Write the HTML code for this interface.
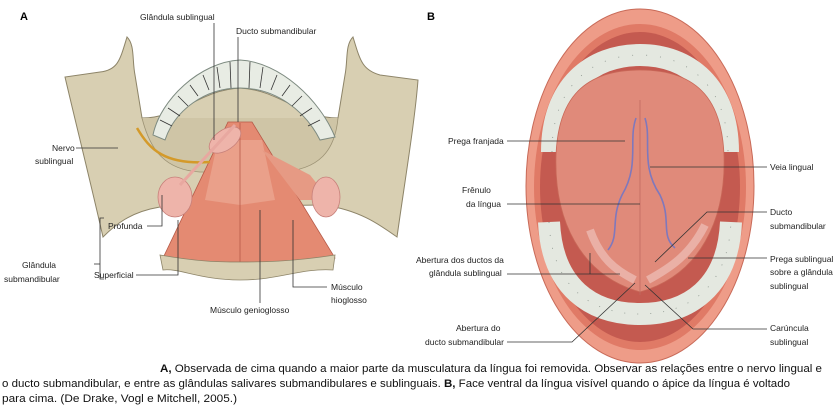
<!DOCTYPE html>
<html><head><meta charset="utf-8"><style>
body{margin:0;background:#fff;}
svg{display:block;font-family:"Liberation Sans",sans-serif;}
.l{font-size:8.5px;fill:#222;}
.c{font-size:11px;fill:#111;}
line,polyline{stroke:#333;stroke-width:0.8;fill:none;}
</style></head><body>
<svg width="840" height="415" viewBox="0 0 840 415">
<!-- Panel A -->
<text x="20" y="20" font-size="11" font-weight="bold">A</text>
<path d="M127,37 C135,45 132,60 135,75 L142,118 C180,118 200,90 240,88 C280,90 300,118 338,118 L345,75 C348,60 345,45 353,37 C360,60 362,70 380,75 L418,80 C415,120 405,180 397,237 C380,225 360,210 323,205 L160,207 C130,212 115,225 103,237 C90,180 75,120 65,77 L100,72 C118,70 120,60 127,37 Z" fill="#d8cfb2" stroke="#8d8468" stroke-width="1"/>
<path d="M142,118 C150,150 165,170 200,172 L280,172 C320,170 335,150 338,118" fill="#cfc5a6" stroke="#9c9274" stroke-width="0.8"/>
<path d="M153,135 C160,100 200,62 240,60 C280,62 320,100 335,137 L320,140 C305,110 275,88 240,88 C205,88 175,110 165,140 Z" fill="#e8ece4" stroke="#7d8a80" stroke-width="1"/>
<g stroke="#9aa69c" stroke-width="0.7">
<line x1="160" y1="120" x2="172" y2="126"/><line x1="168" y1="108" x2="180" y2="116"/><line x1="178" y1="96" x2="188" y2="106"/><line x1="190" y1="85" x2="198" y2="96"/><line x1="203" y1="75" x2="209" y2="90"/><line x1="217" y1="67" x2="220" y2="88"/><line x1="230" y1="62" x2="231" y2="88"/><line x1="250" y1="62" x2="249" y2="88"/><line x1="263" y1="67" x2="260" y2="88"/><line x1="277" y1="75" x2="271" y2="90"/><line x1="290" y1="85" x2="282" y2="96"/><line x1="302" y1="96" x2="292" y2="106"/><line x1="312" y1="108" x2="300" y2="116"/><line x1="320" y1="120" x2="308" y2="126"/>
</g>
<path d="M228,122 L252,122 L335,258 C300,262 280,262 240,262 C200,262 180,262 163,258 Z" fill="#e48a72" stroke="#b65a48" stroke-width="0.8"/>
<path d="M218,140 L262,140 L275,200 L240,205 L205,200 Z" fill="#eaa08a"/>
<path d="M240,123 L240,262" stroke="#b65a48" stroke-width="0.8"/>
<path d="M262,150 L310,175 L330,200 L300,200 Z" fill="#e69a84"/>
<path d="M160,255 C200,262 220,262 240,262 C260,262 290,262 335,255 L333,270 C300,268 280,280 240,280 C200,280 180,268 163,270 Z" fill="#d8cfb2" stroke="#8d8468" stroke-width="0.8"/>
<ellipse cx="175" cy="197" rx="17" ry="20" fill="#eeb4aa" stroke="#c7807a" stroke-width="0.8"/>
<ellipse cx="326" cy="197" rx="14" ry="20" fill="#eeb4aa" stroke="#c7807a" stroke-width="0.8"/>
<ellipse cx="225" cy="140" rx="18" ry="10" transform="rotate(-35 225 140)" fill="#eeb4aa" stroke="#c7807a" stroke-width="0.8"/>
<path d="M137,128 C150,150 165,165 210,162" stroke="#d49a2a" stroke-width="2.5" fill="none"/>
<path d="M235,125 L180,185" stroke="#e8a8a0" stroke-width="3"/>
<text class="l" x="140" y="20">Glândula sublingual</text>
<line x1="214" y1="23" x2="214" y2="140"/>
<text class="l" x="236" y="34">Ducto submandibular</text>
<line x1="238" y1="37" x2="238" y2="122"/>
<text class="l" x="52" y="151">Nervo</text><text class="l" x="35" y="164">sublingual</text>
<line x1="76" y1="148" x2="118" y2="148"/>
<polyline points="104,218 100,218 100,279 104,279"/>
<text class="l" x="108" y="229">Profunda</text>
<polyline points="147,226 162,226 162,195"/>
<text class="l" x="22" y="268">Glândula</text><text class="l" x="4" y="282">submandibular</text>
<line x1="94" y1="264" x2="100" y2="264"/>
<text class="l" x="94" y="278">Superficial</text>
<polyline points="136,275 178,275 178,220"/>
<text class="l" x="210" y="313">Músculo genioglosso</text>
<line x1="260" y1="303" x2="260" y2="210"/>
<text class="l" x="331" y="290">Músculo</text><text class="l" x="331" y="303">hioglosso</text>
<polyline points="327,287 293,287 293,220"/>

<!-- Panel B -->
<text x="427" y="20" font-size="11" font-weight="bold">B</text>
<ellipse cx="640" cy="186" rx="114" ry="177" fill="#ee9c88" stroke="#c86a58" stroke-width="1"/>
<ellipse cx="640" cy="187" rx="106" ry="163" fill="#e07a66"/>
<ellipse cx="640" cy="187" rx="100" ry="155" fill="#c45a50"/>
<path d="M552,152 C552,86 592,55 640,55 C688,55 728,86 728,152" stroke="#e4e8e0" stroke-width="22" fill="none"/>
<path d="M552,152 C552,86 592,55 640,55 C688,55 728,86 728,152" stroke="#8a948c" stroke-width="0.8" fill="none" stroke-dasharray="1 13"/>
<path d="M549,222 C552,288 592,314 640,314 C688,314 728,288 731,222" stroke="#e4e8e0" stroke-width="22" fill="none"/>
<path d="M549,222 C552,288 592,314 640,314 C688,314 728,288 731,222" stroke="#8a948c" stroke-width="0.8" fill="none" stroke-dasharray="1 12"/>
<path d="M640,70 C702,70 722,105 724,155 C726,220 700,275 640,292 C580,275 554,220 556,155 C558,105 578,70 640,70 Z" fill="#e08a7a" stroke="#c86858" stroke-width="0.8"/>
<path d="M640,100 L640,295" stroke="#c06a60" stroke-width="0.8"/>
<path d="M636,118 C628,140 640,165 622,195 C610,220 620,235 608,250" stroke="#7f78bc" stroke-width="1.6" fill="none"/>
<path d="M645,118 C652,140 640,165 660,195 C672,220 660,235 675,248" stroke="#7f78bc" stroke-width="1.6" fill="none"/>
<path d="M590,230 C600,258 615,270 635,280" stroke="#eab0a6" stroke-width="8" fill="none"/>
<path d="M705,225 C690,255 670,268 648,280" stroke="#eab0a6" stroke-width="8" fill="none"/>
<!-- labels B -->
<text class="l" x="448" y="144">Prega franjada</text>
<line x1="507" y1="141" x2="625" y2="141"/>
<text class="l" x="462" y="193">Frênulo</text><text class="l" x="466" y="207">da língua</text>
<line x1="507" y1="204" x2="640" y2="204"/>
<text class="l" x="416" y="263">Abertura dos ductos da</text><text class="l" x="429" y="276">glândula sublingual</text>
<polyline points="507,274 620,274"/>
<polyline points="590,253 590,274"/>
<text class="l" x="456" y="331">Abertura do</text><text class="l" x="425" y="345">ducto submandibular</text>
<polyline points="507,342 572,342 635,283"/>
<text class="l" x="770" y="170">Veia lingual</text>
<line x1="650" y1="167" x2="767" y2="167"/>
<text class="l" x="770" y="215">Ducto</text><text class="l" x="770" y="229">submandibular</text>
<polyline points="767,212 707,212 655,262"/>
<text class="l" x="770" y="262">Prega sublingual</text><text class="l" x="770" y="275">sobre a glândula</text><text class="l" x="770" y="289">sublingual</text>
<line x1="688" y1="258" x2="767" y2="258"/>
<text class="l" x="770" y="331">Carúncula</text><text class="l" x="770" y="345">sublingual</text>
<polyline points="767,329 693,329 645,285"/>

<!-- caption -->
<text class="c" x="160" y="372" textLength="662" lengthAdjust="spacingAndGlyphs"><tspan font-weight="bold">A,</tspan> Observada de cima quando a maior parte da musculatura da língua foi removida. Observar as relações entre o nervo lingual e</text>
<text class="c" x="2" y="387" textLength="788" lengthAdjust="spacingAndGlyphs">o ducto submandibular, e entre as glândulas salivares submandibulares e sublinguais. <tspan font-weight="bold">B,</tspan> Face ventral da língua visível quando o ápice da língua é voltado</text>
<text class="c" x="2" y="402" textLength="235" lengthAdjust="spacingAndGlyphs">para cima. (De Drake, Vogl e Mitchell, 2005.)</text>
</svg>
</body></html>
